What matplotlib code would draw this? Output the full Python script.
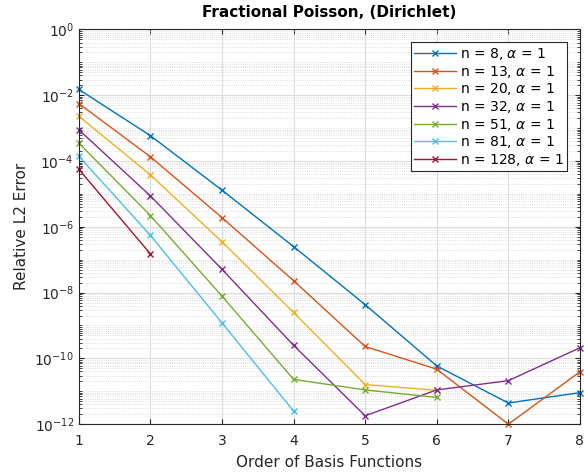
import numpy as np
import matplotlib
matplotlib.use("Agg")
import matplotlib.pyplot as plt
from matplotlib.ticker import LogLocator, NullFormatter

# --- Data ---
order = [1, 2, 3, 4, 5, 6, 7, 8]
labels = [r"n = 8, $\alpha$ = 1", r"n = 13, $\alpha$ = 1", r"n = 20, $\alpha$ = 1",
          r"n = 32, $\alpha$ = 1", r"n = 51, $\alpha$ = 1", r"n = 81, $\alpha$ = 1",
          r"n = 128, $\alpha$ = 1"]
err_n8   = [1.5e-2, 5.9e-4, 1.3e-5, 2.5e-7, 4.3e-9, 5.9e-11, 4.4e-12, 9.1e-12]
err_n13  = [5.6e-3, 1.35e-4, 1.9e-6, 2.3e-8, 2.3e-10, 4.7e-11, 1.0e-12, 3.9e-11]
err_n20  = [2.3e-3, 3.8e-5, 3.5e-7, 2.5e-9, 1.6e-11, 1.07e-11]
err_n32  = [8.9e-4, 8.7e-6, 5.1e-8, 2.5e-10, 1.8e-12, 1.1e-11, 2.1e-11, 2.1e-10]
err_n51  = [3.5e-4, 2.2e-6, 7.8e-9, 2.3e-11, 1.1e-11, 6.5e-12]
err_n81  = [1.4e-4, 5.5e-7, 1.2e-9, 2.5e-12]
err_n128 = [5.6e-5, 1.5e-7]
series = [err_n8, err_n13, err_n20, err_n32, err_n51, err_n81, err_n128]

colors = ["#0072BD", "#D95319", "#EDB120", "#7E2F8E", "#77AC30", "#4DBEEE", "#A2142F"]

fig = plt.figure(figsize=(5.84, 4.75), dpi=100)
ax = fig.add_axes([0.135, 0.107, 0.858, 0.831])

for vals, lab, c in zip(series, labels, colors):
    ax.semilogy(order[:len(vals)], vals, color=c, marker="x", markersize=5,
                linewidth=1.0, label=lab, clip_on=False)

ax.set_xlim(1, 8)
ax.set_ylim(1e-12, 1e0)
ax.set_xticks(order)
ax.yaxis.set_major_locator(LogLocator(base=100, numticks=20))
ax.yaxis.set_minor_locator(LogLocator(base=10, subs=np.arange(1, 10), numticks=40))
ax.yaxis.set_minor_formatter(NullFormatter())

ax.grid(True, which="major", color="#dcdcdc", linewidth=0.8, linestyle="-")
ax.grid(True, which="minor", axis="y", color="#d4d4d4", linewidth=0.6, linestyle=":")
ax.set_axisbelow(True)

ax.tick_params(which="both", direction="in", top=True, right=True, colors="#262626",
               labelsize=10)
ax.tick_params(axis="x", pad=7)
for sp in ax.spines.values():
    sp.set_color("#262626")
    sp.set_linewidth(0.8)

ax.set_xlabel("Order of Basis Functions", fontsize=11, color="#262626", labelpad=5)
ax.set_ylabel("Relative L2 Error", fontsize=11, color="#262626")
ax.set_title("Fractional Poisson, (Dirichlet)", fontsize=11, fontweight="bold", pad=9)

leg = ax.legend(loc="upper right", fontsize=10, fancybox=False, framealpha=1,
                edgecolor="#262626", borderpad=0.25, labelspacing=0.12,
                handlelength=3.0, handletextpad=0.3, borderaxespad=0,
                bbox_to_anchor=(0.975, 0.967))
leg.get_frame().set_linewidth(0.8)

fig.savefig("out.png", dpi=100)
